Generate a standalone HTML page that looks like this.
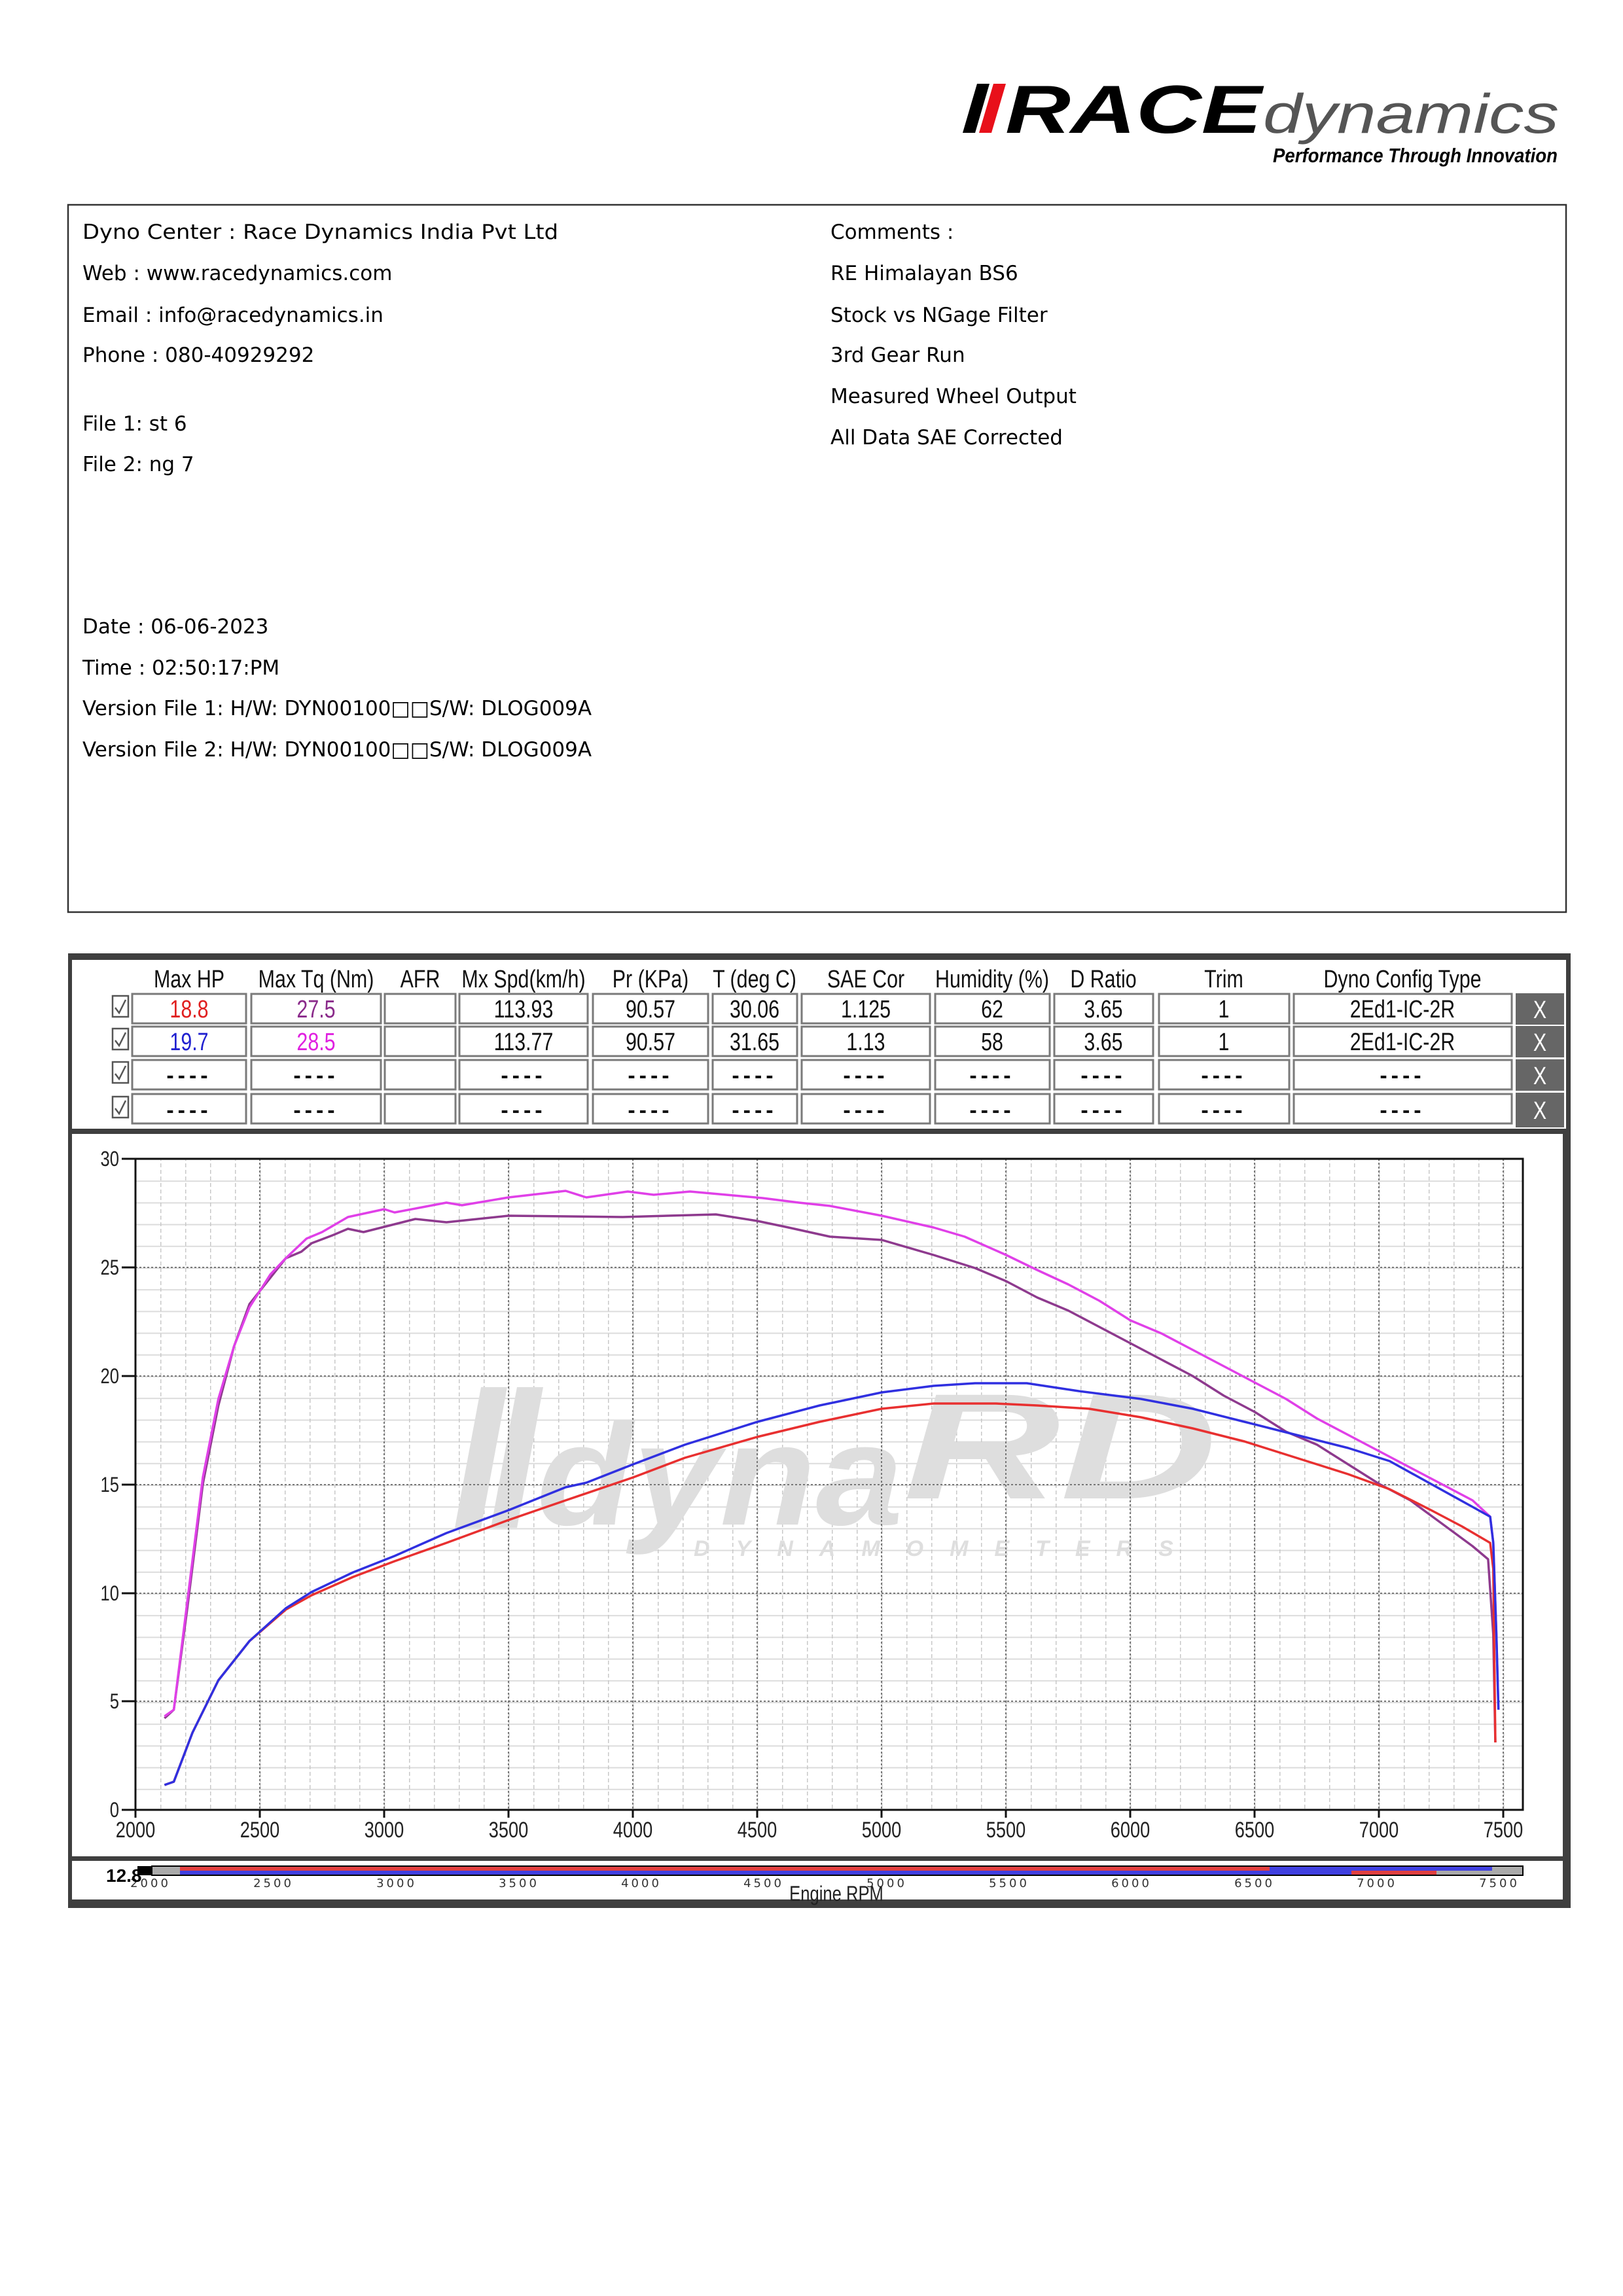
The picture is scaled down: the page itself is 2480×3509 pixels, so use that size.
<!DOCTYPE html>
<html><head><meta charset="utf-8"><style>html,body{margin:0;padding:0;background:#fff}svg{display:block}</style></head>
<body>
<svg xmlns="http://www.w3.org/2000/svg" width="2480" height="3509" viewBox="0 0 2480 3509">
<defs>
<pattern id="vmin" x="207" y="0" width="38" height="10" patternUnits="userSpaceOnUse">
<line x1="0.5" y1="0" x2="0.5" y2="10" stroke="#c8c8c8" stroke-width="2" stroke-dasharray="4 4"/>
</pattern>
<pattern id="hmin" x="0" y="1771" width="10" height="33.2" patternUnits="userSpaceOnUse">
<line x1="0" y1="0.5" x2="10" y2="0.5" stroke="#dcdcdc" stroke-width="3"/>
</pattern>
</defs>
<rect width="2480" height="3509" fill="#fff"/>

<!-- Logo -->
<g>
<polygon points="1493,128 1512,128 1490,203 1471,203" fill="#000"/>
<polygon points="1518,128 1537,128 1515,203 1496,203" fill="#e8101a"/>
<text x="1536" y="203" font-family="Liberation Sans, sans-serif" font-weight="bold" font-style="italic" font-size="104" fill="#000" textLength="392" lengthAdjust="spacingAndGlyphs">RACE</text>
<text x="1930" y="203" font-family="Liberation Sans, sans-serif" font-style="italic" font-size="84" fill="#555" textLength="452" lengthAdjust="spacingAndGlyphs">dynamics</text>
<text x="1945" y="248" font-family="Liberation Sans, sans-serif" font-weight="bold" font-style="italic" font-size="31" fill="#000" textLength="435" lengthAdjust="spacingAndGlyphs">Performance Through Innovation</text>
</g>

<!-- Info box -->
<rect x="104" y="313" width="2289" height="1081" fill="none" stroke="#333" stroke-width="2.5"/>
<g font-family="DejaVu Sans, Verdana, sans-serif" font-size="31" fill="#000">
<text x="126" y="365" textLength="727" lengthAdjust="spacingAndGlyphs">Dyno Center : Race Dynamics India Pvt Ltd</text>
<text x="126" y="428">Web : www.racedynamics.com</text>
<text x="126" y="492">Email : info@racedynamics.in</text>
<text x="126" y="553">Phone : 080-40929292</text>
<text x="126" y="658">File 1: st 6</text>
<text x="126" y="720">File 2: ng 7</text>
<text x="126" y="968">Date : 06-06-2023</text>
<text x="126" y="1031">Time : 02:50:17:PM</text>
<text x="126" y="1093">Version File 1: H/W: DYN00100□□S/W: DLOG009A</text>
<text x="126" y="1156">Version File 2: H/W: DYN00100□□S/W: DLOG009A</text>
<text x="1269" y="365">Comments :</text>
<text x="1269" y="428">RE Himalayan BS6</text>
<text x="1269" y="492">Stock vs NGage Filter</text>
<text x="1269" y="553">3rd Gear Run</text>
<text x="1269" y="616">Measured Wheel Output</text>
<text x="1269" y="679">All Data SAE Corrected</text>
</g>

<!-- Panel -->
<rect x="104" y="1457" width="2296" height="1459" fill="#3f3f3f"/>
<rect x="110" y="1467" width="2283" height="258" fill="#fff"/>
<rect x="110" y="1733" width="2278" height="104" fill="#fff"/>
<rect x="110" y="1733" width="2278" height="1104" fill="#fff"/>
<rect x="110" y="2844" width="2278" height="59" fill="#fff"/>

<!-- Table header -->
<g font-family="Liberation Sans, Arial, sans-serif" font-size="38" fill="#111" text-anchor="middle">
<text transform="translate(289,1509) scale(0.8,1)">Max HP</text>
<text transform="translate(483,1509) scale(0.8,1)">Max Tq (Nm)</text>
<text transform="translate(642,1509) scale(0.8,1)">AFR</text>
<text transform="translate(800,1509) scale(0.8,1)">Mx Spd(km/h)</text>
<text transform="translate(994,1509) scale(0.8,1)">Pr (KPa)</text>
<text transform="translate(1153,1509) scale(0.8,1)">T (deg C)</text>
<text transform="translate(1323,1509) scale(0.8,1)">SAE Cor</text>
<text transform="translate(1516,1509) scale(0.8,1)">Humidity (%)</text>
<text transform="translate(1686,1509) scale(0.8,1)">D Ratio</text>
<text transform="translate(1870,1509) scale(0.8,1)">Trim</text>
<text transform="translate(2143,1509) scale(0.8,1)">Dyno Config Type</text>
</g>

<!-- Table cells -->
<g fill="#fff" stroke="#7a7a7a" stroke-width="3">
<!-- row rects generated per column -->
<g id="r1">
<rect x="202" y="1519" width="174" height="45"/><rect x="384" y="1519" width="198" height="45"/><rect x="588" y="1519" width="108" height="45"/><rect x="702" y="1519" width="196" height="45"/><rect x="906" y="1519" width="176" height="45"/><rect x="1089" y="1519" width="129" height="45"/><rect x="1225" y="1519" width="196" height="45"/><rect x="1429" y="1519" width="175" height="45"/><rect x="1611" y="1519" width="151" height="45"/><rect x="1771" y="1519" width="199" height="45"/><rect x="1977" y="1519" width="333" height="45"/>
</g>
<use href="#r1" y="50"/>
<use href="#r1" y="101"/>
<use href="#r1" y="153" transform="translate(0,0)"/>
</g>
<g fill="#666">
<rect x="2316" y="1518" width="74" height="48"/><rect x="2316" y="1568" width="74" height="48"/><rect x="2316" y="1619" width="74" height="48"/><rect x="2316" y="1670" width="74" height="53"/>
</g>
<g fill="#fff" stroke="#555" stroke-width="2.5">
<rect x="172" y="1522" width="24" height="32"/><rect x="172" y="1572" width="24" height="32"/><rect x="172" y="1623" width="24" height="32"/><rect x="172" y="1676" width="24" height="32"/>
</g>
<g fill="none" stroke="#555" stroke-width="2.5">
<polyline points="176,1540 182,1548 192,1528"/><polyline points="176,1590 182,1598 192,1578"/><polyline points="176,1641 182,1649 192,1629"/><polyline points="176,1694 182,1702 192,1682"/>
</g>
<g font-family="Liberation Sans, Arial, sans-serif" font-size="38" fill="#111" text-anchor="middle">
<text transform="translate(289,1555) scale(0.8,1)" fill="#e02020">18.8</text>
<text transform="translate(483,1555) scale(0.8,1)" fill="#8a2a8a">27.5</text>
<text transform="translate(800,1555) scale(0.8,1)">113.93</text>
<text transform="translate(994,1555) scale(0.8,1)">90.57</text>
<text transform="translate(1153,1555) scale(0.8,1)">30.06</text>
<text transform="translate(1323,1555) scale(0.8,1)">1.125</text>
<text transform="translate(1516,1555) scale(0.8,1)">62</text>
<text transform="translate(1686,1555) scale(0.8,1)">3.65</text>
<text transform="translate(1870,1555) scale(0.8,1)">1</text>
<text transform="translate(2143,1555) scale(0.8,1)">2Ed1-IC-2R</text>
<text transform="translate(289,1605) scale(0.8,1)" fill="#2020d0">19.7</text>
<text transform="translate(483,1605) scale(0.8,1)" fill="#e020e0">28.5</text>
<text transform="translate(800,1605) scale(0.8,1)">113.77</text>
<text transform="translate(994,1605) scale(0.8,1)">90.57</text>
<text transform="translate(1153,1605) scale(0.8,1)">31.65</text>
<text transform="translate(1323,1605) scale(0.8,1)">1.13</text>
<text transform="translate(1516,1605) scale(0.8,1)">58</text>
<text transform="translate(1686,1605) scale(0.8,1)">3.65</text>
<text transform="translate(1870,1605) scale(0.8,1)">1</text>
<text transform="translate(2143,1605) scale(0.8,1)">2Ed1-IC-2R</text>
</g>
<g font-family="Liberation Sans, Arial, sans-serif" font-size="34" font-weight="bold" fill="#111" text-anchor="middle" letter-spacing="6">
<text x="289" y="1655">----</text><text x="483" y="1655">----</text><text x="800" y="1655">----</text><text x="994" y="1655">----</text><text x="1153" y="1655">----</text><text x="1323" y="1655">----</text><text x="1516" y="1655">----</text><text x="1686" y="1655">----</text><text x="1870" y="1655">----</text><text x="2143" y="1655">----</text>
<text x="289" y="1708">----</text><text x="483" y="1708">----</text><text x="800" y="1708">----</text><text x="994" y="1708">----</text><text x="1153" y="1708">----</text><text x="1323" y="1708">----</text><text x="1516" y="1708">----</text><text x="1686" y="1708">----</text><text x="1870" y="1708">----</text><text x="2143" y="1708">----</text>
</g>
<g font-family="Liberation Sans, Arial, sans-serif" font-size="38" fill="#fff" text-anchor="middle">
<text transform="translate(2353,1556) scale(0.8,1)">X</text><text transform="translate(2353,1606) scale(0.8,1)">X</text><text transform="translate(2353,1657) scale(0.8,1)">X</text><text transform="translate(2353,1710) scale(0.8,1)">X</text>
</g>

<!-- Plot grid -->
<rect x="207" y="1771" width="2120" height="995" fill="url(#hmin)"/>
<rect x="207" y="1771" width="2120" height="995" fill="url(#vmin)"/>
<!-- watermark -->
<g fill="#dedede">
<polygon points="735,2120 775,2120 735,2335 695,2335"/>
<polygon points="790,2120 830,2120 790,2335 750,2335"/>
<text x="820" y="2330" font-family="Liberation Sans, sans-serif" font-weight="bold" font-style="italic" font-size="220" textLength="560" lengthAdjust="spacingAndGlyphs">dyna</text>
<text x="1380" y="2290" font-family="Liberation Sans, sans-serif" font-weight="bold" font-style="italic" font-size="230" textLength="480" lengthAdjust="spacingAndGlyphs">RD</text>
<text x="1060" y="2378" font-family="Liberation Sans, sans-serif" font-weight="bold" font-style="italic" font-size="34" letter-spacing="40">DYNAMOMETERS</text>
</g>
<!-- major grid -->
<g stroke="#777" stroke-width="2" stroke-dasharray="3 3">
<line x1="207" y1="1937" x2="2327" y2="1937"/><line x1="207" y1="2103" x2="2327" y2="2103"/><line x1="207" y1="2269" x2="2327" y2="2269"/><line x1="207" y1="2435" x2="2327" y2="2435"/><line x1="207" y1="2600" x2="2327" y2="2600"/>
<line x1="397" y1="1771" x2="397" y2="2766"/><line x1="587" y1="1771" x2="587" y2="2766"/><line x1="777" y1="1771" x2="777" y2="2766"/><line x1="967" y1="1771" x2="967" y2="2766"/><line x1="1157" y1="1771" x2="1157" y2="2766"/><line x1="1347" y1="1771" x2="1347" y2="2766"/><line x1="1537" y1="1771" x2="1537" y2="2766"/><line x1="1727" y1="1771" x2="1727" y2="2766"/><line x1="1917" y1="1771" x2="1917" y2="2766"/><line x1="2107" y1="1771" x2="2107" y2="2766"/><line x1="2297" y1="1771" x2="2297" y2="2766"/>
</g>
<rect x="207" y="1771" width="2120" height="995" fill="none" stroke="#111" stroke-width="3"/>
<!-- ticks -->
<g stroke="#111" stroke-width="3">
<line x1="186" y1="1771" x2="207" y2="1771"/><line x1="186" y1="1937" x2="207" y2="1937"/><line x1="186" y1="2103" x2="207" y2="2103"/><line x1="186" y1="2269" x2="207" y2="2269"/><line x1="186" y1="2435" x2="207" y2="2435"/><line x1="186" y1="2600" x2="207" y2="2600"/><line x1="186" y1="2766" x2="207" y2="2766"/>
<line x1="207" y1="2766" x2="207" y2="2778"/><line x1="397" y1="2766" x2="397" y2="2778"/><line x1="587" y1="2766" x2="587" y2="2778"/><line x1="777" y1="2766" x2="777" y2="2778"/><line x1="967" y1="2766" x2="967" y2="2778"/><line x1="1157" y1="2766" x2="1157" y2="2778"/><line x1="1347" y1="2766" x2="1347" y2="2778"/><line x1="1537" y1="2766" x2="1537" y2="2778"/><line x1="1727" y1="2766" x2="1727" y2="2778"/><line x1="1917" y1="2766" x2="1917" y2="2778"/><line x1="2107" y1="2766" x2="2107" y2="2778"/><line x1="2297" y1="2766" x2="2297" y2="2778"/>
</g>
<g font-family="Liberation Sans, Arial, sans-serif" font-size="32" fill="#222" text-anchor="end">
<text transform="translate(182,1782) scale(0.8,1)">30</text><text transform="translate(182,1948) scale(0.8,1)">25</text><text transform="translate(182,2114) scale(0.8,1)">20</text><text transform="translate(182,2280) scale(0.8,1)">15</text><text transform="translate(182,2446) scale(0.8,1)">10</text><text transform="translate(182,2611) scale(0.8,1)">5</text><text transform="translate(182,2777) scale(0.8,1)">0</text>
</g>
<g font-family="Liberation Sans, Arial, sans-serif" font-size="34" fill="#222" text-anchor="middle">
<text transform="translate(207,2808) scale(0.8,1)">2000</text><text transform="translate(397,2808) scale(0.8,1)">2500</text><text transform="translate(587,2808) scale(0.8,1)">3000</text><text transform="translate(777,2808) scale(0.8,1)">3500</text><text transform="translate(967,2808) scale(0.8,1)">4000</text><text transform="translate(1157,2808) scale(0.8,1)">4500</text><text transform="translate(1347,2808) scale(0.8,1)">5000</text><text transform="translate(1537,2808) scale(0.8,1)">5500</text><text transform="translate(1727,2808) scale(0.8,1)">6000</text><text transform="translate(1917,2808) scale(0.8,1)">6500</text><text transform="translate(2107,2808) scale(0.8,1)">7000</text><text transform="translate(2297,2808) scale(0.8,1)">7500</text>
</g>

<!-- Curves (coords in zoom space) -->
<g transform="translate(0,1398) translate(207,0) scale(1.5838,1) translate(-130,0)" fill="none" stroke-width="3.5" stroke-linejoin="round">
<polyline vector-effect="non-scaling-stroke" stroke="#8e3a8e" points="158,1228 167,1215 180,1060 195,870 210,750 225,660 240,595 260,555 275,525 290,515 300,502 320,490 335,480 350,485 400,465 430,470 490,460 600,462 690,458 730,468 760,478 800,492 850,497 900,520 940,540 970,560 1000,585 1030,605 1060,630 1090,655 1120,680 1150,705 1180,735 1210,760 1240,790 1270,810 1300,840 1330,870 1360,895 1390,930 1420,965 1435,985 1440,1100 1442,1265"/>
<polyline vector-effect="non-scaling-stroke" stroke="#e040e8" points="158,1225 167,1215 180,1050 195,860 210,740 225,660 240,600 260,550 275,525 295,495 310,485 335,462 370,450 380,455 430,440 445,444 490,432 545,422 565,432 605,423 630,428 665,423 700,428 735,433 770,440 800,445 850,460 900,478 930,492 970,520 1000,543 1030,565 1060,590 1090,620 1120,640 1150,665 1180,690 1210,715 1240,740 1270,770 1300,795 1330,820 1360,845 1390,870 1420,895 1437,920 1440,960 1443,1100 1445,1215"/>
<polyline vector-effect="non-scaling-stroke" stroke="#e83030" points="158,1330 167,1325 185,1250 210,1170 240,1110 275,1062 300,1040 340,1012 380,988 430,960 490,925 545,895 610,860 660,830 730,798 790,775 850,755 900,747 960,747 1000,750 1050,755 1100,768 1150,785 1200,805 1250,830 1300,855 1340,878 1380,910 1410,935 1437,960 1440,1000 1442,1265"/>
<polyline vector-effect="non-scaling-stroke" stroke="#3030e0" points="158,1330 167,1325 185,1250 210,1170 240,1110 275,1060 300,1035 340,1005 380,980 430,945 490,910 545,875 565,868 610,840 660,810 730,775 790,750 850,730 900,720 940,716 990,716 1040,728 1100,740 1150,755 1200,775 1250,795 1300,815 1340,835 1380,870 1420,905 1437,920 1440,960 1443,1100 1445,1215"/>
</g>

<!-- bottom scroll strip -->
<rect x="210" y="2852" width="22" height="14" fill="#000"/>
<rect x="232" y="2852" width="2095" height="14" fill="#aaa" stroke="#000" stroke-width="2"/>
<rect x="275" y="2853" width="1880" height="6" fill="#e04040"/>
<rect x="275" y="2859" width="1880" height="6" fill="#4040e0"/>
<rect x="1940" y="2853" width="340" height="6" fill="#4040e0"/>
<rect x="2065" y="2859" width="130" height="6" fill="#e04040"/>
<g font-family="DejaVu Sans, sans-serif" font-size="18" fill="#333" text-anchor="middle" letter-spacing="4">
<text x="230" y="2884">2000</text><text x="418" y="2884">2500</text><text x="606" y="2884">3000</text><text x="793" y="2884">3500</text><text x="980" y="2884">4000</text><text x="1167" y="2884">4500</text><text x="1355" y="2884">5000</text><text x="1542" y="2884">5500</text><text x="1729" y="2884">6000</text><text x="1917" y="2884">6500</text><text x="2104" y="2884">7000</text><text x="2291" y="2884">7500</text>
</g>
<text transform="translate(1278,2905) scale(0.8,1)" font-family="Liberation Sans, Arial, sans-serif" font-size="32" fill="#222" text-anchor="middle">Engine RPM</text>
<text x="162" y="2876" font-family="Liberation Sans, sans-serif" font-weight="bold" font-size="28" fill="#000">12.8</text>
</svg>
</body></html>
